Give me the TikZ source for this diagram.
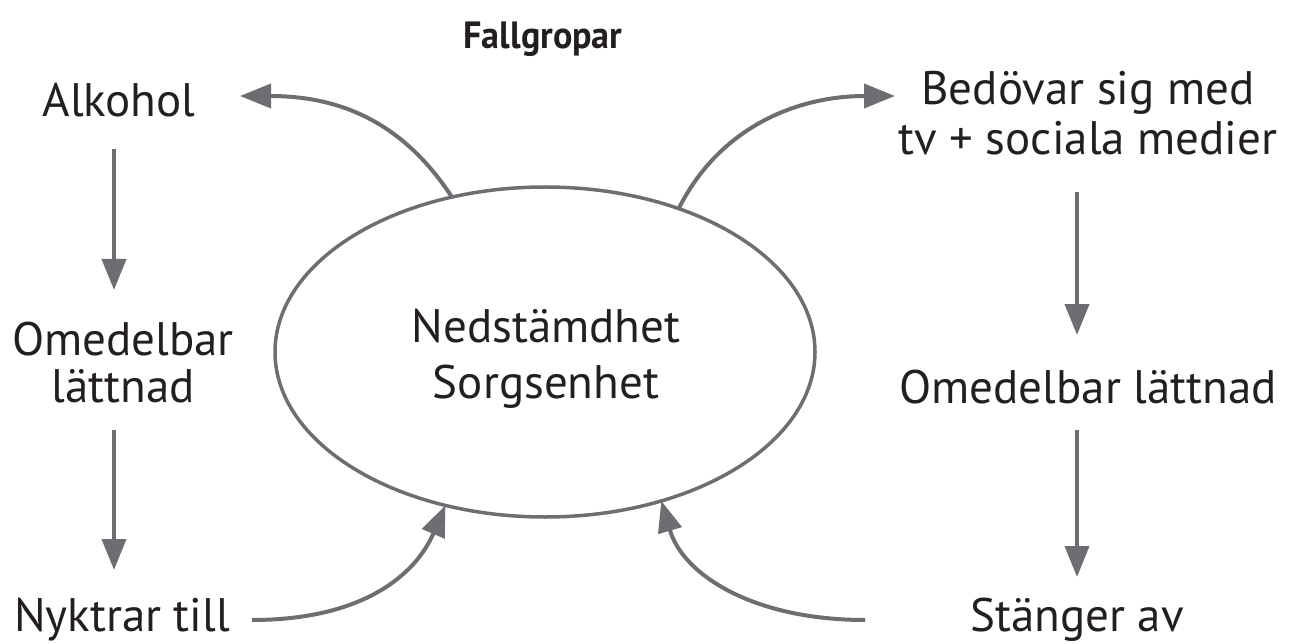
\documentclass[tikz,border=0pt]{standalone}
\usepackage{fontspec}
\setmainfont{PT Sans}
\usetikzlibrary{arrows.meta,shapes.geometric}
\definecolor{ln}{HTML}{6D6E71}
\definecolor{tx}{HTML}{231F20}
\begin{document}
\begin{tikzpicture}[x=1pt,y=-1pt,
  lbl/.style={text=tx,inner sep=0pt,anchor=base,font=\fontsize{47pt}{47pt}\selectfont},
  arr/.style={draw=ln,line width=4pt,-{Triangle[length=31pt,width=24pt]}},
  bubble/.style={draw=ln,line width=3.5pt,ellipse,minimum width=540pt,minimum height=330pt,inner sep=0pt,outer sep=0pt}
]
\useasboundingbox (0,0) rectangle (1290,644);
% title
\node[lbl,font=\bfseries\fontsize{38pt}{38pt}\selectfont\addfontfeature{FakeStretch=0.95}] (title) at (543,49) {Fallgropar};
% central ellipse
\node[bubble] (ell) at (545,352) {};
\node[lbl,font=\fontsize{47pt}{56pt}\selectfont] (mood) at (546,342) {\begin{tabular}[t]{@{}c@{}}Nedstämdhet\\Sorgsenhet\end{tabular}};
% left column
\node[lbl] (alk) at (119,117) {Alkohol};
\node[lbl] (om1) at (123,355) {\begin{tabular}[t]{@{}c@{}}Omedelbar\\lättnad\end{tabular}};
\node[lbl] (nyk) at (122,631) {Nyktrar till};
% right column
\node[lbl,font=\fontsize{47pt}{50pt}\selectfont] (bed) at (1088,105) {\begin{tabular}[t]{@{}c@{}}Bedövar sig med\\tv + sociala medier\end{tabular}};
\node[lbl] (om2) at (1088,403) {Omedelbar lättnad};
\node[lbl] (sta) at (1077,631) {Stänger av};
% connector ends
\coordinate (a1s) at (114,149); \coordinate (a1e) at (114,290);
\coordinate (a2s) at (114,430); \coordinate (a2e) at (114,570);
\coordinate (b1s) at (1077,192); \coordinate (b1e) at (1077,335);
\coordinate (b2s) at (1077,430); \coordinate (b2e) at (1077,577);
\coordinate (tlend) at (240,96);
\coordinate (trend) at (895,96);
\coordinate (blstart) at (252,620);
\coordinate (brstart) at (865,620);
% vertical arrows
\draw[arr] (a1s) -- (a1e);
\draw[arr] (a2s) -- (a2e);
\draw[arr] (b1s) -- (b1e);
\draw[arr] (b2s) -- (b2e);
% curved arrows
\draw[arr] (ell.121.5) .. controls +(-49,-75) and +(100,0) .. (tlend);
\draw[arr] (ell.47) .. controls +(40,-80) and +(-100,0) .. (trend);
\draw[arr] (blstart) .. controls +(110,0) and +(-30,70) .. (ell.237.5);
\draw[arr] (brstart) .. controls +(-110,0) and +(22,75) .. (ell.308);
\end{tikzpicture}
\end{document}
